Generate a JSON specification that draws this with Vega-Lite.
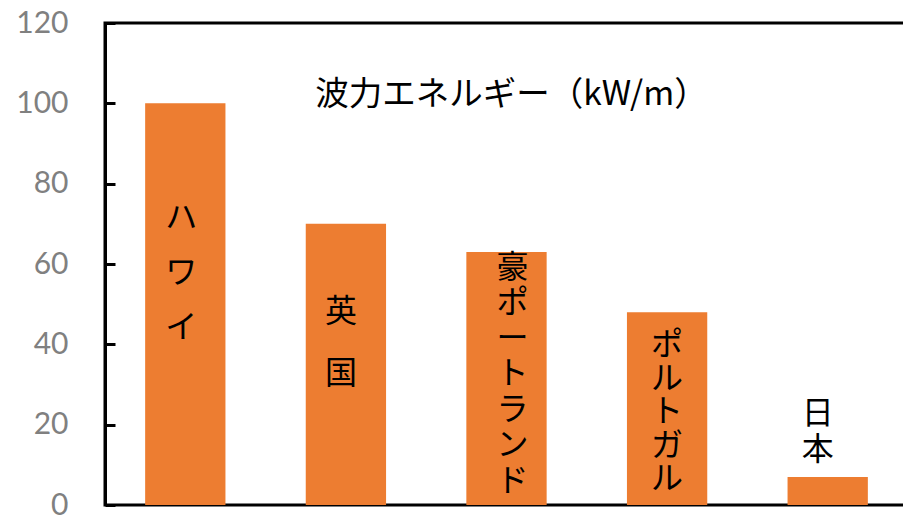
{
  "$schema": "https://vega.github.io/schema/vega-lite/v6.json",
  "autosize": "none",
  "width": 803,
  "height": 482,
  "padding": {"left": 105, "top": 23, "right": 0, "bottom": 11},
  "background": "white",
  "config": {
    "view": {"stroke": "black", "strokeWidth": 3},
    "font": "Noto Sans CJK JP"
  },
  "title": {
    "text": "波力エネルギー（kW/m）",
    "font": "Noto Sans CJK JP",
    "fontSize": 33.5,
    "fontWeight": "normal",
    "color": "black",
    "anchor": "middle",
    "offset": -104,
    "dx": 5
  },
  "data": {
    "values": [
      {"name": "ハワイ", "value": 100, "label": "ハ\nワ\nイ"},
      {"name": "英国", "value": 70, "label": "英\n国"},
      {"name": "豪ポートランド", "value": 63, "label": "豪\nポ\nー\nト\nラ\nン\nド"},
      {"name": "ポルトガル", "value": 48, "label": "ポ\nル\nト\nガ\nル"},
      {"name": "日本", "value": 7, "label": "日\n本"}
    ]
  },
  "encoding": {
    "x": {
      "field": "name",
      "type": "nominal",
      "sort": null,
      "scale": {"paddingInner": 0.5, "paddingOuter": 0.25},
      "axis": null
    },
    "y": {
      "field": "value",
      "type": "quantitative",
      "scale": {"domain": [0, 120], "nice": false},
      "axis": {
        "values": [0, 20, 40, 60, 80, 100, 120],
        "title": null,
        "grid": false,
        "domain": true,
        "domainColor": "black",
        "domainWidth": 3,
        "ticks": true,
        "tickColor": "black",
        "tickWidth": 3,
        "tickSize": -10,
        "labelFont": "Lato",
        "labelFontSize": 30,
        "labelColor": "#808080",
        "labelPadding": 47
      }
    }
  },
  "layer": [
    {"mark": {"type": "bar", "color": "#ED7D31"}},
    {
      "transform": [{"filter": "datum.name === 'ハワイ'"}],
      "mark": {"type": "text", "baseline": "top", "align": "center", "lineBreak": "\n", "lineHeight": 55, "fontSize": 32, "dy": 100, "dx": -4, "color": "black"},
      "encoding": {"text": {"field": "label"}}
    },
    {
      "transform": [{"filter": "datum.name === '英国'"}],
      "mark": {"type": "text", "baseline": "top", "align": "center", "lineBreak": "\n", "lineHeight": 62, "fontSize": 32, "dy": 73, "dx": -5, "color": "black"},
      "encoding": {"text": {"field": "label"}}
    },
    {
      "transform": [{"filter": "datum.name === '豪ポートランド'"}],
      "mark": {"type": "text", "baseline": "top", "align": "center", "lineBreak": "\n", "lineHeight": 35.5, "fontSize": 32, "dy": 1, "dx": 6, "color": "black"},
      "encoding": {"text": {"field": "label"}}
    },
    {
      "transform": [{"filter": "datum.name === 'ポルトガル'"}],
      "mark": {"type": "text", "baseline": "top", "align": "center", "lineBreak": "\n", "lineHeight": 33.5, "fontSize": 32, "dy": 18, "dx": 0, "color": "black"},
      "encoding": {"text": {"field": "label"}}
    },
    {
      "transform": [{"filter": "datum.name === '日本'"}],
      "mark": {"type": "text", "baseline": "top", "align": "center", "lineBreak": "\n", "lineHeight": 36, "fontSize": 32, "dy": -78, "dx": -10, "color": "black"},
      "encoding": {"text": {"field": "label"}}
    }
  ]
}
